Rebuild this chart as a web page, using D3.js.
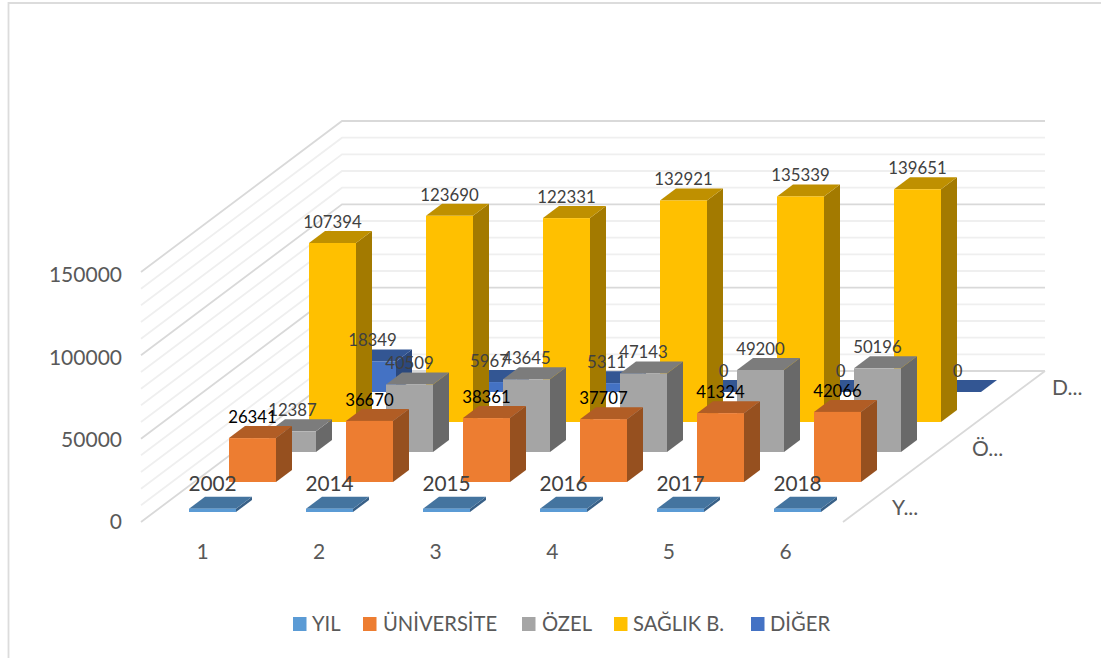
<!DOCTYPE html>
<html><head><meta charset="utf-8">
<script src="https://cdn.jsdelivr.net/npm/d3@7"></script>
<style>html,body{margin:0;background:#fff}svg{display:block}text{font-family:Lato,"Open Sans",sans-serif}</style>
</head><body><div id="c"></div>
<script>
const categories = [1, 2, 3, 4, 5, 6];
const years = [2002, 2014, 2015, 2016, 2017, 2018];
const universite = [26341, 36670, 38361, 37707, 41324, 42066];
const ozel = [12387, 40509, 43645, 47143, 49200, 50196];
const saglik = [107394, 123690, 122331, 132921, 135339, 139651];
const diger = [18349, 5967, 5311, 0, 0, 0];
const seriesNames = ["YIL", "ÜNİVERSİTE", "ÖZEL", "SAĞLIK B.", "DİĞER"];
const seriesValues = [years, universite, ozel, saglik, diger];
const fronts = ["#5B9BD5", "#ED7D31", "#A5A5A5", "#FFC000", "#4472C4"];
const tops = ["#44749F", "#B15D25", "#7C7C7C", "#BF9000", "#335693"];
const sides = ["#386087", "#96501F", "#696969", "#A37A00", "#2B487D"];
const labelColors = ["#404040", "#000000", "#404040", "#404040", "#404040"];
const depthLabels = ["Y...", "Ö...", "D..."];
const yTicks = [0, 50000, 100000, 150000];
const gridTicks = d3.range(0, 150001, 10000);

const W = 1101, H = 658, barW = 47, boxDx = 16, boxDy = 12;
const svg = d3.select("#c").append("svg").attr("width", W).attr("height", H);

// frame
svg.append("path").attr("d", "M8.5,658V3H1101").attr("fill", "none").attr("stroke", "#dcdcdc").attr("stroke-width", 1.8);

const xCat = d3.scaleLinear().domain([0, 5]).range([189, 774]);
const depthX = d3.scaleLinear().domain([0, 4]).range([0, 160]);
const depthY = d3.scaleLinear().domain([0, 4]).range([512, 392]);
const h = d3.scaleLinear().domain([0, 150000]).range([0, 250]);

// walls
const wallFrontX = 141, wallBackX = 342, wallRightX = 1045;
const floorFrontY = 522, floorBackY = 371;
const g = svg.append("g");
const isMajor = d => d % 50000 === 0;
g.selectAll("path.grid").data(gridTicks).join("path").attr("class", "grid")
  .attr("fill", "none")
  .attr("stroke", d => isMajor(d) ? "#d9d9d9" : "#efefef")
  .attr("stroke-width", 1.8)
  .attr("d", d => `M${wallFrontX},${floorFrontY - h(d)}L${wallBackX},${floorBackY - h(d)}L${wallRightX},${floorBackY - h(d)}`);
g.append("path").attr("fill", "none").attr("stroke", "#d9d9d9").attr("stroke-width", 1.8)
  .attr("d", `M${wallRightX},${floorBackY}L843,${floorFrontY}`);

// bars, back to front
for (let s = 4; s >= 0; s--) {
  const sg = svg.append("g");
  const vals = seriesValues[s];
  const cell = sg.selectAll("g").data(vals).join("g");
  const X = (d, i) => xCat(i) + depthX(s);
  const Y0 = depthY(s);
  const T = d => Y0 - h(d);
  cell.append("path").attr("fill", sides[s]).attr("d", (d, i) => {
    const x = X(d, i) + barW;
    return `M${x},${T(d)}L${x + boxDx},${T(d) - boxDy}L${x + boxDx},${Y0 - boxDy}L${x},${Y0}Z`;
  });
  cell.append("path").attr("fill", tops[s]).attr("d", (d, i) => {
    const x = X(d, i);
    return `M${x},${T(d)}L${x + boxDx},${T(d) - boxDy}L${x + barW + boxDx},${T(d) - boxDy}L${x + barW},${T(d)}Z`;
  });
  cell.append("rect").attr("fill", fronts[s]).attr("x", X).attr("y", T)
    .attr("width", barW).attr("height", d => h(d));
}

// data labels
[4, 3, 2, 1, 0].forEach(s => {
  const vals = seriesValues[s];
  svg.append("g").selectAll("text").data(vals).join("text")
    .attr("x", (d, i) => xCat(i) + depthX(s) + barW / 2)
    .attr("y", d => depthY(s) - h(d) - (s === 0 ? 25 : 21))
    .attr("dy", "0.35em").attr("text-anchor", "middle")
    .attr("fill", labelColors[s]).attr("font-size", s === 0 ? 20.8 : 16.8)
    .text(d => d);
});

// value axis
const yAxisScale = d3.scaleLinear().domain([0, 150000]).range([floorFrontY, floorFrontY - 247]);
const yAxis = svg.append("g").attr("transform", "translate(122,0)")
  .call(d3.axisLeft(yAxisScale).tickValues(yTicks).tickSize(0).tickPadding(0).tickFormat(d => d));
yAxis.select(".domain").remove();
yAxis.selectAll("text").attr("fill", "#595959").attr("font-size", 21).style("font-family", "Lato");

// category axis
const catScale = d3.scalePoint().domain(categories).range([202, 785]);
const xAxis = svg.append("g").attr("transform", "translate(0,544)")
  .call(d3.axisBottom(catScale).tickSize(0).tickPadding(0));
xAxis.select(".domain").remove();
xAxis.selectAll("text").attr("fill", "#595959").attr("font-size", 21).style("font-family", "Lato");

// depth axis
const depthLabelX = [892, 972, 1052], depthLabelY = [508, 449, 388];
svg.append("g").selectAll("text").data(depthLabels).join("text")
  .attr("x", (d, i) => depthLabelX[i]).attr("y", (d, i) => depthLabelY[i])
  .attr("dy", "0.35em").attr("fill", "#595959").attr("font-size", 21).text(d => d);

// legend
const legX = [293, 363, 522, 614, 751], legTextX = [312, 383, 542, 633, 770];
const leg = svg.append("g").selectAll("g").data(seriesNames).join("g");
leg.append("rect").attr("x", (d, i) => legX[i]).attr("y", 617).attr("width", 13.5).attr("height", 14)
  .attr("fill", (d, i) => fronts[i]);
leg.append("text").attr("x", (d, i) => legTextX[i]).attr("y", 631)
  .attr("fill", "#595959").attr("font-size", 20.2).text(d => d);
</script></body></html>
